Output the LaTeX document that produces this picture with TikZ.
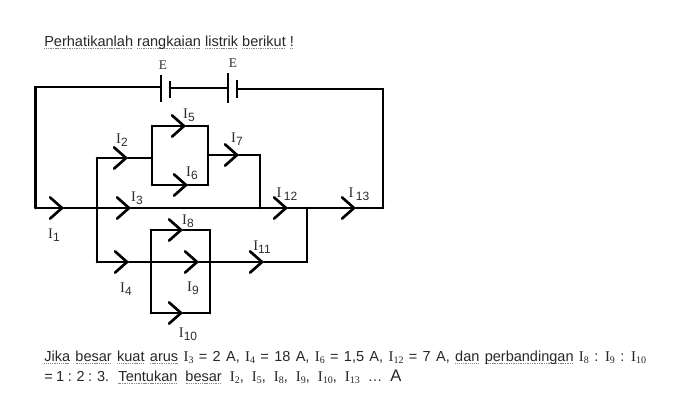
\documentclass[tikz,border=0pt]{standalone}
\usepackage{fontspec}
\setmainfont{Liberation Sans}
\newfontfamily\curfont{Liberation Serif}
\usetikzlibrary{arrows.meta}
\definecolor{inkgrey}{RGB}{45,45,45}
\definecolor{spellgrey}{RGB}{135,140,110}
\newcommand{\lcur}[1]{{\curfont I}\raisebox{-.45ex}{\fontsize{9}{9}\selectfont #1}}
\newcommand{\tcur}[1]{{\curfont\fontsize{11.2}{10}\selectfont I\raisebox{-.35ex}{\fontsize{7.5}{7}\selectfont #1}}}
\newcommand{\spell}[1]{\setbox0\hbox{#1}\rlap{\lower2pt\hbox to\wd0{\color{spellgrey}\xleaders\hbox{\rule{.8pt}{.6pt}\kern.5pt}\hfill}}\box0\relax}
\begin{document}
\begin{tikzpicture}[x=.75pt,y=-.75pt,
  wire/.style={draw=black, line width=2pt, line cap=round, line join=miter},
  plate/.style={draw=black, line width=2.1pt},
  curarrow/.style={wire, -{Straight Barb[length=9pt,width=16pt,line cap=round]}},
  clabel/.style={text=inkgrey, font=\fontsize{11}{12}\selectfont, inner sep=0pt},
  elabel/.style={text=inkgrey, font=\curfont\fontsize{10}{10}\selectfont, inner sep=0pt},
  textline/.style={text=black!85, anchor=base west, inner sep=0pt, font=\fontsize{10.9}{12}\selectfont},
  qline/.style={textline, font={\fontsize{10.9}{12}\selectfont\spaceskip=4pt}}]
\useasboundingbox (0,0) rectangle (682,412);
\coordinate (topleft) at (35.5,87);
\coordinate (topright) at (383,89);
\coordinate (bat1long) at (161,87);
\coordinate (bat1short) at (170,88);
\coordinate (bat2long) at (228,88);
\coordinate (bat2short) at (237,89);
\coordinate (bat1longa) at (161,75);
\coordinate (bat1longb) at (161,102);
\coordinate (bat1shorta) at (170,81);
\coordinate (bat1shortb) at (170,98);
\coordinate (bat2longa) at (228,73);
\coordinate (bat2longb) at (228,103);
\coordinate (bat2shorta) at (237,80);
\coordinate (bat2shortb) at (237,98);
\coordinate (mainleft) at (35.5,208);
\coordinate (mainj2) at (97,208);
\coordinate (mainj7) at (260,208);
\coordinate (mainj11) at (307,208);
\coordinate (mainright) at (383,208);
\coordinate (up2) at (97,158);
\coordinate (upbox) at (152,158);
\coordinate (box5a) at (152,126);
\coordinate (box5b) at (208,126);
\coordinate (box6a) at (152,185);
\coordinate (box6b) at (208,185);
\coordinate (out7) at (208,155);
\coordinate (corner7) at (260,155);
\coordinate (low4) at (97,262);
\coordinate (lowboxa) at (151,262);
\coordinate (lowboxb) at (210,262);
\coordinate (corner11) at (307,262);
\coordinate (box8a) at (151,230);
\coordinate (box8b) at (210,230);
\coordinate (box10a) at (151,313);
\coordinate (box10b) at (210,313);
\coordinate (tip1) at (64,208);
\coordinate (tip3) at (131,208);
\coordinate (tip12) at (288,208);
\coordinate (tip13) at (356,208);
\coordinate (tip2) at (128,158);
\coordinate (tip5) at (186,126);
\coordinate (tip6) at (188,185);
\coordinate (tip7) at (239,155);
\coordinate (tip8) at (183,230);
\coordinate (tip9) at (199,262);
\coordinate (tip10) at (183,313);
\coordinate (tip4) at (129,262);
\coordinate (tip11) at (264,262);
\draw[wire](mainleft) -- (topleft) -- (bat1long);
\draw[wire](bat1short) -- (bat2long);
\draw[wire](bat2short) -- (topright) -- (mainright);
\draw[plate](bat1longa) -- (bat1longb);
\draw[plate](bat1shorta) -- (bat1shortb);
\draw[plate](bat2longa) -- (bat2longb);
\draw[plate](bat2shorta) -- (bat2shortb);
\draw[curarrow](mainleft) -- (tip1);
\draw[wire](tip1) -- (mainj2);
\draw[curarrow](mainj2) -- (tip3);
\draw[wire](tip3) -- (mainj7);
\draw[curarrow](mainj7) -- (tip12);
\draw[wire](tip12) -- (mainj11);
\draw[curarrow](mainj11) -- (tip13);
\draw[wire](tip13) -- (mainright);
\draw[wire](low4) -- (up2);
\draw[curarrow](up2) -- (tip2);
\draw[wire](tip2) -- (upbox);
\draw[wire](box6a) -- (box5a);
\draw[curarrow](box5a) -- (tip5);
\draw[wire](tip5) -- (box5b) -- (box6b);
\draw[curarrow](box6a) -- (tip6);
\draw[wire](tip6) -- (box6b);
\draw[curarrow](out7) -- (tip7);
\draw[wire](tip7) -- (corner7) -- (mainj7);
\draw[curarrow](low4) -- (tip4);
\draw[wire](tip4) -- (lowboxa);
\draw[curarrow](lowboxa) -- (tip9);
\draw[wire](tip9) -- (lowboxb);
\draw[curarrow](lowboxb) -- (tip11);
\draw[wire](tip11) -- (corner11) -- (mainj11);
\draw[wire](box10a) -- (box8a);
\draw[curarrow](box8a) -- (tip8);
\draw[wire](tip8) -- (box8b) -- (box10b);
\draw[curarrow](box10a) -- (tip10);
\draw[wire](tip10) -- (box10b);
\node[elabel] (lblE1) at (163,65) {E};
\node[elabel] (lblE2) at (233,63) {E};
\node[clabel] (lblI1) at (54,235) {\lcur{1}};
\node[clabel] (lblI2) at (122,140) {\lcur{2}};
\node[clabel] (lblI3) at (137,198) {\lcur{3}};
\node[clabel] (lblI4) at (126,289) {\lcur{4}};
\node[clabel] (lblI5) at (189,115) {\lcur{5}};
\node[clabel] (lblI6) at (192,173) {\lcur{6}};
\node[clabel] (lblI7) at (237,139) {\lcur{7}};
\node[clabel] (lblI8) at (188,221) {\lcur{8}};
\node[clabel] (lblI9) at (193,288) {\lcur{9}};
\node[clabel] (lblI10) at (188,334) {\lcur{10}};
\node[clabel] (lblI11) at (262,247) {\lcur{11}};
\node[clabel] (lblI12) at (287,194) {{\curfont I}\,\raisebox{-.45ex}{\fontsize{9}{9}\selectfont 12}};
\node[clabel] (lblI13) at (359,194) {{\curfont I}\,\raisebox{-.45ex}{\fontsize{9}{9}\selectfont 13}};
\node[textline] (title) at (44,46.5) {\spell{Perhatikanlah} \spell{rangkaian} \spell{listrik} \spell{berikut} \spell{!}};
\node[qline] (question1) at (44,361) {\spell{Jika} \spell{besar} \spell{kuat} \spell{arus} \tcur{3} = 2 A, \tcur{4} = 18 A, \tcur{6} = 1,5 A, \tcur{12} = 7 A, \spell{dan} \spell{perbandingan} \tcur{8} : \tcur{9} : \tcur{10}};
\node[qline] (question2) at (44,381) {{\spaceskip=2.6pt = 1 : 2 : 3.}\hspace{7pt}\spaceskip=6pt \spell{Tentukan} \spell{besar} \tcur{2}, \tcur{5}, \tcur{8}, \tcur{9}, \tcur{10}, \tcur{13} \dots\ {\fontsize{12.5}{12}\selectfont A}};
\end{tikzpicture}
\end{document}
